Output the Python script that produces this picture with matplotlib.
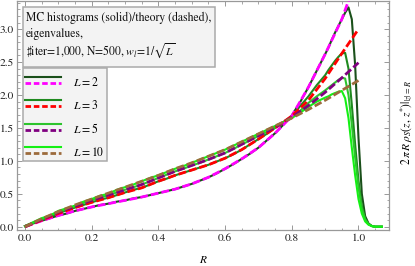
import numpy as np
import matplotlib
matplotlib.use("Agg")
import matplotlib.pyplot as plt
from matplotlib.lines import Line2D
from matplotlib.legend_handler import HandlerBase
from matplotlib.patches import Rectangle

plt.rcParams['font.family'] = ['STIXGeneral', 'DejaVu Serif']
plt.rcParams['mathtext.fontset'] = 'stix'

# ---------------- data ----------------
L_values = [2, 3, 5, 10]

R_theory = [0.0, 0.05, 0.10, 0.15, 0.20, 0.25, 0.30, 0.35, 0.40, 0.45, 0.50,
            0.55, 0.60, 0.65, 0.70, 0.75, 0.80, 0.85, 0.90, 0.95, 1.00]
theory_L2 = [0.0, 0.09, 0.17, 0.24, 0.30, 0.35, 0.40, 0.45, 0.51, 0.57, 0.65,
             0.75, 0.88, 1.03, 1.20, 1.42, 1.68, 2.12, 2.62, 3.15, 3.85]
theory_L3 = [0.0, 0.10, 0.20, 0.29, 0.37, 0.44, 0.52, 0.59, 0.69, 0.78, 0.86,
             0.94, 1.04, 1.17, 1.33, 1.50, 1.68, 1.92, 2.25, 2.63, 3.00]
theory_L5 = [0.0, 0.11, 0.22, 0.31, 0.40, 0.48, 0.56, 0.64, 0.74, 0.84, 0.93,
             1.02, 1.12, 1.25, 1.38, 1.51, 1.66, 1.84, 2.04, 2.26, 2.49]
theory_L10 = [0.0, 0.12, 0.23, 0.33, 0.42, 0.51, 0.60, 0.69, 0.78, 0.88, 0.97,
              1.07, 1.17, 1.29, 1.41, 1.53, 1.65, 1.78, 1.92, 2.07, 2.22]

R_mc = [0.0, 0.025, 0.05, 0.075, 0.10, 0.125, 0.15, 0.175, 0.20, 0.225, 0.25,
        0.275, 0.30, 0.325, 0.35, 0.375, 0.40, 0.425, 0.45, 0.475, 0.50,
        0.525, 0.55, 0.575, 0.60, 0.625, 0.65, 0.675, 0.70, 0.725, 0.75,
        0.775, 0.80, 0.825, 0.85, 0.875, 0.90,
        0.91, 0.92, 0.93, 0.94, 0.95, 0.96, 0.97, 0.98, 0.99, 1.00,
        1.01, 1.02, 1.03, 1.04, 1.05, 1.06, 1.07]
mc_L2 = [0.01, 0.05, 0.09, 0.13, 0.17, 0.20, 0.24, 0.27, 0.30, 0.33, 0.35,
         0.38, 0.40, 0.43, 0.45, 0.48, 0.51, 0.54, 0.57, 0.61, 0.65,
         0.70, 0.75, 0.81, 0.88, 0.95, 1.03, 1.11, 1.20, 1.31, 1.42,
         1.55, 1.69, 1.89, 2.12, 2.37, 2.62,
         2.72, 2.84, 2.95, 3.05, 3.15, 3.25, 3.33, 3.15, 2.45, 1.35,
         0.50, 0.16, 0.05, 0.01, 0.0, 0.0, 0.0]
mc_L3 = [0.01, 0.06, 0.10, 0.15, 0.20, 0.25, 0.29, 0.33, 0.37, 0.41, 0.44,
         0.48, 0.52, 0.56, 0.59, 0.64, 0.69, 0.73, 0.78, 0.82, 0.86,
         0.90, 0.94, 0.99, 1.04, 1.10, 1.17, 1.25, 1.33, 1.41, 1.50,
         1.59, 1.68, 1.83, 1.98, 2.15, 2.30,
         2.38, 2.45, 2.52, 2.58, 2.63, 2.64, 2.40, 1.85, 1.25, 0.70,
         0.32, 0.12, 0.04, 0.01, 0.0, 0.0, 0.0]
mc_L5 = [0.01, 0.06, 0.11, 0.17, 0.22, 0.27, 0.31, 0.36, 0.40, 0.44, 0.48,
         0.52, 0.56, 0.60, 0.64, 0.69, 0.74, 0.79, 0.84, 0.88, 0.93,
         0.97, 1.02, 1.07, 1.12, 1.18, 1.25, 1.31, 1.38, 1.44, 1.51,
         1.58, 1.66, 1.76, 1.88, 1.98, 2.07,
         2.11, 2.15, 2.19, 2.23, 2.26, 2.25, 2.00, 1.55, 1.05, 0.60,
         0.28, 0.11, 0.04, 0.01, 0.0, 0.0, 0.0]
mc_L10 = [0.01, 0.07, 0.13, 0.17, 0.24, 0.28, 0.32, 0.38, 0.42, 0.47, 0.50,
          0.56, 0.60, 0.64, 0.69, 0.74, 0.78, 0.83, 0.88, 0.92, 0.97,
          1.02, 1.07, 1.12, 1.17, 1.23, 1.29, 1.35, 1.41, 1.47, 1.53,
          1.59, 1.65, 1.73, 1.82, 1.90, 1.96,
          1.98, 2.01, 2.03, 2.05, 2.06, 1.95, 1.65, 1.20, 0.78, 0.42,
          0.20, 0.08, 0.03, 0.01, 0.0, 0.0, 0.0]

theory = [theory_L2, theory_L3, theory_L5, theory_L10]
mc = [mc_L2, mc_L3, mc_L5, mc_L10]

solid_colors = ['#1a501a', '#1f8a1f', '#2dc42d', '#14f014']
dashed_colors = ['#ff00ff', '#ff0000', '#800080', '#9c6b3c']

x_ticks = [0.0, 0.2, 0.4, 0.6, 0.8, 1.0]
y_ticks = [0.0, 0.5, 1.0, 1.5, 2.0, 2.5, 3.0]

# ---------------- figure ----------------
W, H = 415, 266
fig = plt.figure(figsize=(4.15, 2.66), dpi=100)
AX_L, AX_T, AX_R, AX_B = 17, 1, 389, 230
ax = fig.add_axes([AX_L / W, 1 - AX_B / H, (AX_R - AX_L) / W, (AX_B - AX_T) / H])

def fx(px):  # pixel x -> axes fraction
    return (px - AX_L) / (AX_R - AX_L)

def fy(py):  # pixel y (from top) -> axes fraction
    return (AX_B - py) / (AX_B - AX_T)

solids = []
for vals, c in zip(mc, solid_colors):
    ln, = ax.plot(R_mc, vals, color=c, lw=1.5, solid_joinstyle='round', zorder=2)
    solids.append(ln)
dasheds = []
for vals, c in zip(theory, dashed_colors):
    ln, = ax.plot(R_theory, vals, color=c, lw=2.0, dashes=(2.8, 1.1), zorder=3)
    dasheds.append(ln)

ax.set_xlim(-0.024, 1.0915)
ax.set_ylim(-0.05, 3.427)
ax.set_xticks(x_ticks)
ax.set_xticklabels([f"{v:.1f}" for v in x_ticks])
ax.set_yticks(y_ticks)
ax.set_yticklabels([f"{v:.1f}" for v in y_ticks])
ax.xaxis.set_minor_locator(matplotlib.ticker.MultipleLocator(0.05))
ax.yaxis.set_minor_locator(matplotlib.ticker.MultipleLocator(0.1))
ax.tick_params(which='both', direction='in', top=True, right=True,
               color='#999999', labelsize=8.2, labelcolor='#222222')
ax.tick_params(which='major', length=3.5, width=0.7, pad=2.5)
ax.tick_params(which='minor', length=1.8, width=0.6)
for sp in ax.spines.values():
    sp.set_color('#999999')
    sp.set_linewidth(0.9)

ax.set_xlabel(r'$R$', fontsize=8.2, labelpad=7.5)
ax.yaxis.set_label_position('right')
ax.set_ylabel(r'$2\,\pi\,R\;\rho_{S}(z,\,z^{*})|_{|z|=R}$', fontsize=8.3)
ax.yaxis.set_label_coords(fx(398), fy(122.5))

# ---- text box ----
box = Rectangle((fx(23), fy(66.7)), fx(215) - fx(23), fy(7.3) - fy(66.7),
                transform=ax.transAxes, facecolor='#f3f3f3', edgecolor='#aaaaaa',
                lw=1.1, zorder=5)
ax.add_patch(box)
lines = ["MC histograms (solid)/theory (dashed),",
         "eigenvalues,",
         r"$\sharp$iter=1,000, N=500, $w_l$=1/$\sqrt{L}$"]
baselines = [20.7, 36.7, 55.0]
for s, yy in zip(lines, baselines):
    t = ax.text(fx(26), fy(yy), s, transform=ax.transAxes, fontsize=8.4,
                va='baseline', ha='left', zorder=6, color='#111111')
    t.set_clip_path(box)

# ---- legend ----
class PairHandler(HandlerBase):
    def create_artists(self, legend, orig_handle, xdescent, ydescent,
                       width, height, fontsize, trans):
        s, d = orig_handle
        y0 = -ydescent
        x = [-xdescent, -xdescent + width]
        l1 = Line2D(x, [y0 + 6.8, y0 + 6.8], color=s.get_color(), lw=s.get_linewidth())
        l2 = Line2D(x, [y0 + 2.3, y0 + 2.3], color=d.get_color(), lw=d.get_linewidth(),
                    dashes=(2.0, 1.0))
        for l in (l1, l2):
            l.set_transform(trans)
        return [l1, l2]

leg_frame = Rectangle((fx(23), fy(160.5)), fx(106.7) - fx(23), fy(68.3) - fy(160.5),
                      transform=ax.transAxes, facecolor='#f3f3f3', edgecolor='#aaaaaa',
                      lw=1.1, zorder=5)
ax.add_patch(leg_frame)

handles = list(zip(solids, dasheds))
labels = [rf'$L = {L}$' for L in L_values]
leg = ax.legend(handles, labels, handler_map={tuple: PairHandler()},
                loc='upper left', bbox_to_anchor=(fx(25), fy(76.3)),
                borderaxespad=0, borderpad=0, fontsize=8.5, handlelength=3.05,
                handletextpad=1.05, labelspacing=0.85, frameon=False)
leg.set_zorder(6)

fig.savefig('out.png', dpi=100)
